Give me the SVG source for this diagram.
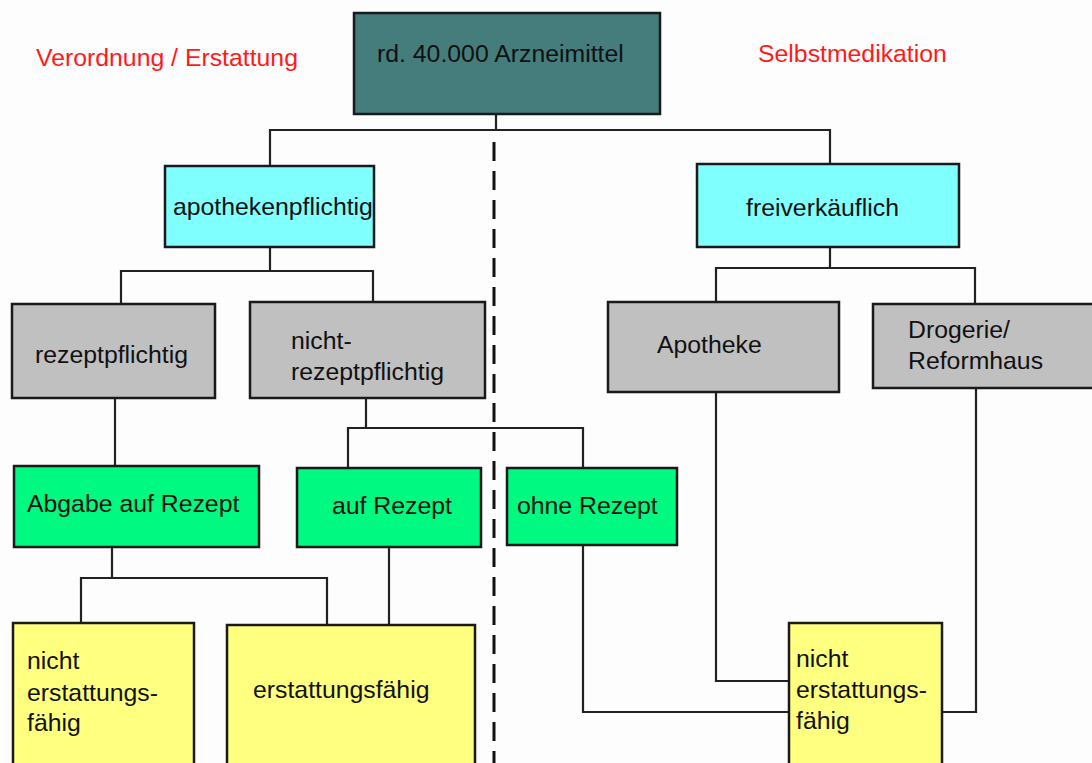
<svg xmlns="http://www.w3.org/2000/svg" width="1092" height="763" viewBox="0 0 1092 763">
<style>
.box{stroke:#1a1a1a;stroke-width:2.5}
.teal{fill:#457d7d}
.cyan{fill:#80ffff}
.gray{fill:#c0c0c0}
.green{fill:#00f980}
.yellow{fill:#ffff80}
text{font-family:"Liberation Sans",Arial,sans-serif;font-size:24.8px;fill:#111}
.red{fill:#ff1a1a}
.conn{fill:none;stroke:#222;stroke-width:2.2}
.dash{fill:none;stroke:#111;stroke-width:3;stroke-dasharray:19 10}
</style>
<rect width="1092" height="763" fill="#fdfdfd"/>
<text class="red" x="36" y="66">Verordnung / Erstattung</text>
<text class="red" x="758" y="62">Selbstmedikation</text>
<g id="connectors">
<line class="dash" x1="494" y1="142" x2="494" y2="763"/>
<path class="conn" d="M496 114V130M270 165V130H830V163"/>
<path class="conn" d="M270 247V271M121 304V271H373V302"/>
<path class="conn" d="M830 247V268M716 302V268H975V304"/>
<path class="conn" d="M115 398V466"/>
<path class="conn" d="M366 398V428M348 468V428H583V468"/>
<path class="conn" d="M112 547V578M81 623V578H327V625"/>
<path class="conn" d="M389 547V625"/>
<path class="conn" d="M583 545V712H789"/>
<path class="conn" d="M716 392V681H789"/>
<path class="conn" d="M976 388V712H942"/>
</g>
<g id="root"><rect class="box teal" x="354" y="13" width="306" height="101"/><text x="377" y="62">rd. 40.000 Arzneimittel</text></g>
<g id="apothekenpflichtig"><rect class="box cyan" x="165" y="166" width="209" height="81"/><text x="173" y="215">apothekenpflichtig</text></g>
<g id="freiverkaeuflich"><rect class="box cyan" x="697" y="164" width="262" height="83"/><text x="746" y="216">freiverkäuflich</text></g>
<g id="rezeptpflichtig"><rect class="box gray" x="12" y="304" width="203" height="94"/><text x="35" y="363">rezeptpflichtig</text></g>
<g id="nicht-rezeptpflichtig"><rect class="box gray" x="250" y="302" width="235" height="96"/><text x="291" y="349">nicht-</text><text x="291" y="380">rezeptpflichtig</text></g>
<g id="apotheke"><rect class="box gray" x="608" y="302" width="231" height="90"/><text x="657" y="353">Apotheke</text></g>
<g id="drogerie"><rect class="box gray" x="873" y="304" width="225" height="84"/><text x="908" y="338">Drogerie/</text><text x="908" y="369">Reformhaus</text></g>
<g id="abgabe"><rect class="box green" x="14" y="466" width="245" height="81"/><text x="27" y="512">Abgabe auf Rezept</text></g>
<g id="auf-rezept"><rect class="box green" x="297" y="468" width="184" height="79"/><text x="332" y="514">auf Rezept</text></g>
<g id="ohne-rezept"><rect class="box green" x="507" y="468" width="170" height="77"/><text x="517" y="514">ohne Rezept</text></g>
<g id="nicht-erstattungsfaehig-1"><rect class="box yellow" x="13" y="623" width="181" height="150"/><text x="27" y="669">nicht</text><text x="27" y="701">erstattungs-</text><text x="27" y="731">fähig</text></g>
<g id="erstattungsfaehig"><rect class="box yellow" x="227" y="625" width="248" height="150"/><text x="253" y="698">erstattungsfähig</text></g>
<g id="nicht-erstattungsfaehig-2"><rect class="box yellow" x="789" y="623" width="153" height="150"/><text x="796" y="667">nicht</text><text x="796" y="698">erstattungs-</text><text x="796" y="729">fähig</text></g>
</svg>
